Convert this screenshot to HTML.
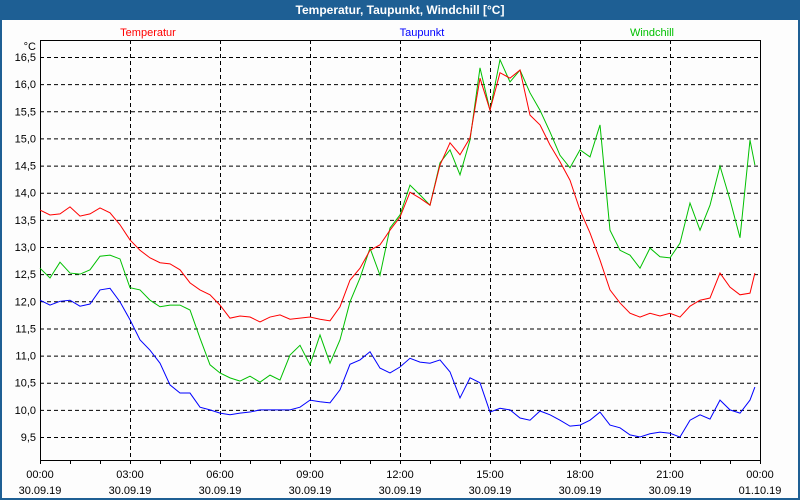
<!DOCTYPE html>
<html><head><meta charset="utf-8"><style>
body{margin:0;width:800px;height:500px;overflow:hidden;background:#fff;font-family:"Liberation Sans",sans-serif}
#frame{position:absolute;left:0;top:0;width:796px;height:496px;border:2px solid #1e5f94;background:#fdfdfd}
#titlebar{position:absolute;left:0;top:0;width:800px;height:20px;background:#1e5f94;color:#fff;font-weight:bold;font-size:12px;text-align:center;line-height:20px}
</style></head><body>
<div id="frame"></div>
<div id="titlebar">Temperatur, Taupunkt, Windchill [°C]</div>
<svg id="chart" width="800" height="500" style="position:absolute;left:0;top:0"></svg>
<script>
const temperatur=[13.68,13.59,13.61,13.74,13.57,13.61,13.72,13.63,13.41,13.13,12.94,12.80,12.71,12.69,12.58,12.34,12.21,12.12,11.93,11.69,11.73,11.71,11.62,11.71,11.75,11.67,11.69,11.71,11.67,11.64,11.90,12.39,12.61,12.94,13.04,13.31,13.55,14.01,13.90,13.77,14.51,14.92,14.70,15.01,16.11,15.52,16.21,16.11,16.26,15.43,15.25,14.88,14.57,14.23,13.68,13.26,12.76,12.21,11.97,11.78,11.71,11.78,11.73,11.78,11.71,11.91,12.02,12.06,12.52,12.26,12.12,12.15,12.52];
const taupunkt=[12.02,11.93,12.0,12.02,11.91,11.95,12.21,12.24,11.99,11.66,11.29,11.10,10.86,10.46,10.31,10.31,10.05,10.0,9.94,9.91,9.94,9.96,10.0,10.0,10.0,10.0,10.05,10.18,10.15,10.13,10.37,10.84,10.92,11.07,10.77,10.68,10.79,10.95,10.88,10.86,10.92,10.70,10.22,10.59,10.50,9.96,10.03,10.0,9.85,9.81,9.98,9.91,9.81,9.70,9.72,9.81,9.96,9.72,9.67,9.54,9.50,9.56,9.59,9.57,9.50,9.81,9.91,9.83,10.18,10.0,9.94,10.18,10.42];
const windchill=[12.61,12.43,12.72,12.52,12.50,12.58,12.83,12.85,12.78,12.25,12.21,12.02,11.90,11.93,11.93,11.84,11.32,10.83,10.68,10.59,10.53,10.62,10.51,10.64,10.55,11.01,11.19,10.83,11.38,10.86,11.29,11.99,12.43,12.98,12.48,13.35,13.59,14.14,13.96,13.77,14.55,14.79,14.33,14.97,16.30,15.52,16.45,16.04,16.26,15.84,15.52,15.12,14.69,14.46,14.79,14.66,15.25,13.31,12.94,12.85,12.61,12.98,12.82,12.80,13.07,13.81,13.31,13.77,14.49,13.87,13.17,14.97,14.51];
const yTicks=[9.5,10.0,10.5,11.0,11.5,12.0,12.5,13.0,13.5,14.0,14.5,15.0,15.5,16.0,16.5];
const xTickHours=[0,3,6,9,12,15,18,21,24];
const xTickTimes=["00:00","03:00","06:00","09:00","12:00","15:00","18:00","21:00","00:00"];
const xTickDates=["30.09.19","30.09.19","30.09.19","30.09.19","30.09.19","30.09.19","30.09.19","30.09.19","01.10.19"];
const times=[];for(let i=0;i<72;i++)times.push(i/3);times.push(23.83);

const L=40,R=760,T=40,B=460;
const xs=h=>L+h*(R-L)/24;
const ys=v=>57+(16.5-v)*54.29;
const svg=document.getElementById('chart');
const NS='http://www.w3.org/2000/svg';
function mk(tag,attrs){const e=document.createElementNS(NS,tag);for(const k in attrs)e.setAttribute(k,attrs[k]);svg.appendChild(e);return e;}
function txt(s,x,y,anchor,color){const t=mk('text',{x:x,y:y,'text-anchor':anchor,fill:color,'font-size':'11','font-family':'Liberation Sans, sans-serif'});t.textContent=s;return t;}

yTicks.forEach(v=>{
 const g=mk('line',{x1:L,x2:R,y1:ys(v)+0.5,y2:ys(v)+0.5,stroke:'#000','stroke-dasharray':'4,3','stroke-width':1});
 
 
 const t=txt(v.toFixed(1).replace('.',','),36,ys(v)+4,'end','#000');
 
 
});
xTickHours.forEach((h,i)=>{
 if(h>0&&h<24){const g=mk('line',{x1:xs(h)+0.5,x2:xs(h)+0.5,y1:T,y2:B,stroke:'#000','stroke-dasharray':'4,3','stroke-width':1});
 
 }
 const t1=txt(xTickTimes[i],xs(h),478,'middle','#000');
 
 
 const t2=txt(xTickDates[i],xs(h),494,'middle','#000');
 
 
});
for(let h=0;h<=24;h++){const m=mk('line',{x1:xs(h)+0.5,x2:xs(h)+0.5,y1:B,y2:B+4,stroke:'#000'});
 
 }
const ax=mk('path',{d:`M${L+0.5},${T}V${B+0.5}H${R+0.5}V${T}`,fill:'none',stroke:'#000','stroke-width':1});


const topBorder=mk('line',{x1:L,x2:R+1,y1:T+0.5,y2:T+0.5,stroke:'#000'});


const unit=txt('°C',36,50,'end','#000');



function series(arr,color,name){
 const p=mk('polyline',{points:arr.map((v,i)=>xs(times[i])+','+ys(v)).join(' '),fill:'none',stroke:color,'stroke-width':1});
 
 
}
series(taupunkt,'#0000ff','taupunkt-line');
series(windchill,'#00c000','windchill-line');
series(temperatur,'#ff0000','temperatur-line');

const l1=txt('Temperatur',148,36,'middle','#ff0000');


const l2=txt('Taupunkt',422,36,'middle','#0000ff');


const l3=txt('Windchill',652,36,'middle','#00c000');


</script>
</body></html>
